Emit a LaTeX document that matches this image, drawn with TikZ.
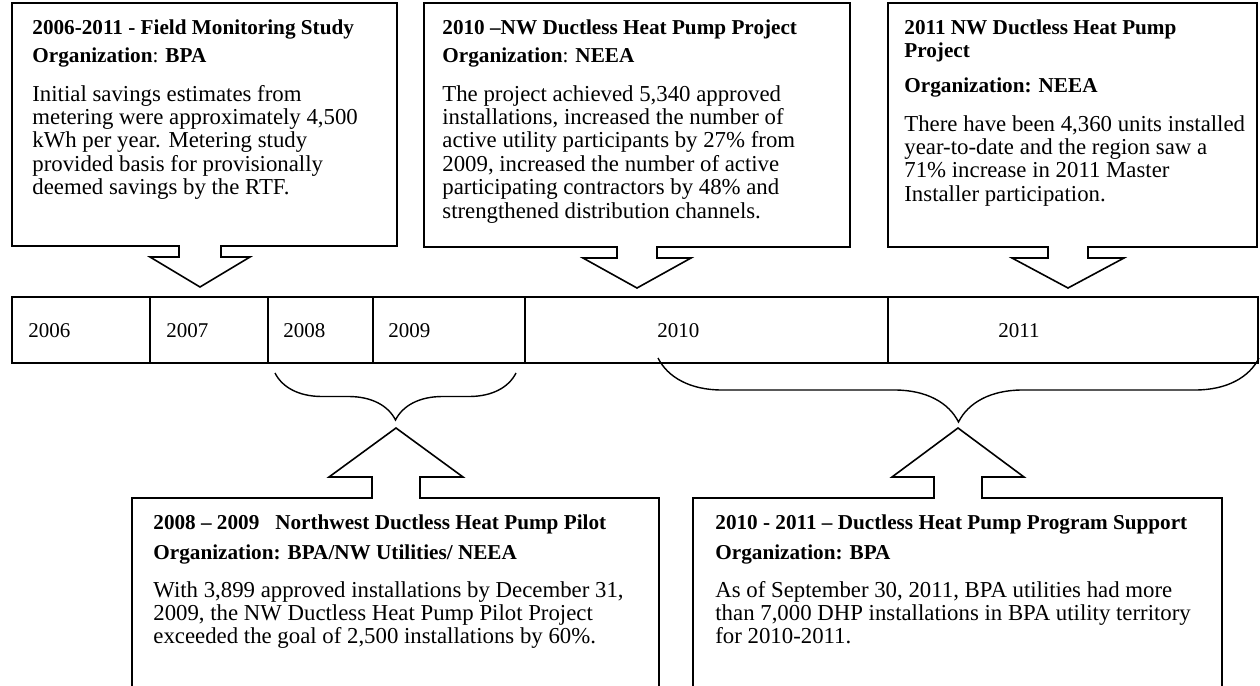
\documentclass[tikz,border=0pt]{standalone}
\usepackage{fontspec}
\setmainfont{Liberation Serif}
\usetikzlibrary{decorations.pathreplacing,positioning}

\begin{document}
\begin{tikzpicture}[
    x=0.5pt, y=-0.5pt,
    frame/.style={line width=0.8pt, line join=miter},
    boxtitle/.style={anchor=base west, inner sep=0pt, align=left, font=\fontsize{10.6}{11.5}\selectfont\bfseries},
    boxorg/.style={anchor=base west, inner sep=0pt, font=\fontsize{10.6}{11.5}\selectfont},
    boxbody/.style={anchor=base west, inner sep=0pt, align=left, font=\fontsize{11.4}{11.7}\selectfont},
    yearlabel/.style={anchor=base west, inner sep=0pt, font=\fontsize{10.5}{12}\selectfont},
    yearbrace/.style={decorate, decoration={brace, amplitude=#1}, line width=0.7pt}
]
  \useasboundingbox (0,0) rectangle (1260,686);
  \clip (0,0) rectangle (1260,686);

  % callouts above the timeline
  \draw[frame] (179,246) -- (12,246) -- (12,3) -- (397,3) -- (397,246) -- (221,246)
    -- (221,257) -- (250,257) -- (200,287) -- (150,257) -- (179,257) -- cycle;
  \draw[frame] (617,247) -- (424,247) -- (424,3) -- (850,3) -- (850,247) -- (657,247)
    -- (657,258) -- (691,258) -- (637,288) -- (583,258) -- (617,258) -- cycle;
  \draw[frame] (1048,247) -- (888,247) -- (888,3) -- (1257,3) -- (1257,247) -- (1088,247)
    -- (1088,258) -- (1124,258) -- (1068,288) -- (1012,258) -- (1048,258) -- cycle;

  % multi-line nodes sit on the baseline of their last line
  \node[boxtitle] (t1) at (32,34) {2006-2011 - Field Monitoring Study};
  \node[boxorg] (o1) at (32,62) {\textbf{Organization}: \textbf{BPA}};
  \node[boxbody] (b1) at (32,194.6) {Initial savings estimates from\\metering were approximately 4,500\\kWh per year. Metering study\\provided basis for provisionally\\deemed savings by the RTF.};

  \node[boxtitle] (t2) at (442,34) {2010 –NW Ductless Heat Pump Project};
  \node[boxorg] (o2) at (442,62) {\textbf{Organization}: \textbf{NEEA}};
  \node[boxbody] (b2) at (442,218) {The project achieved 5,340 approved\\installations, increased the number of\\active utility participants by 27\% from\\2009, increased the number of active\\participating contractors by 48\% and\\strengthened distribution channels.};

  \node[boxtitle] (t3) at (904,57) {2011 NW Ductless Heat Pump\\Project};
  \node[boxorg] (o3) at (904,92) {\textbf{Organization: NEEA}};
  \node[boxbody] (b3) at (904,201.2) {There have been 4,360 units installed\\year-to-date and the region saw a\\71\% increase in 2011 Master\\Installer participation.};

  % timeline
  \draw[frame] (12,297) rectangle (1258,363);
  \foreach \xd in {150,268,373,525,888}
    \draw[frame] (\xd,297) -- (\xd,363);
  \node[yearlabel] (y2006) at (28,337) {2006};
  \node[yearlabel] (y2007) at (166,337) {2007};
  \node[yearlabel] (y2008) at (283,337) {2008};
  \node[yearlabel] (y2009) at (388,337) {2009};
  \node[yearlabel] (y2010) at (657,337) {2010};
  \node[yearlabel] (y2011) at (998,337) {2011};

  % braces
  \draw[yearbrace=23.5pt] (516,373) -- (275,373);
  \draw[yearbrace=32pt] (1259,358) -- (658,358);

  % callouts below the timeline
  \draw[frame] (372,498) -- (132,498) -- (132,720) -- (659,720) -- (659,498) -- (420,498)
    -- (420,477) -- (463,477) -- (396,428) -- (329,477) -- (372,477) -- cycle;
  \draw[frame] (934,498) -- (693,498) -- (693,720) -- (1222,720) -- (1222,498) -- (982,498)
    -- (982,477) -- (1024,477) -- (958,428) -- (892,477) -- (934,477) -- cycle;

  \node[boxtitle] (t4) at (153,529) {2008 – 2009\hspace{0.75em}Northwest Ductless Heat Pump Pilot};
  \node[boxorg] (o4) at (153,559) {\textbf{Organization: BPA/NW Utilities/ NEEA}};
  \node[boxbody] (b4) at (153,643.8) {With 3,899 approved installations by December 31,\\2009, the NW Ductless Heat Pump Pilot Project\\exceeded the goal of 2,500 installations by 60\%.};

  \node[boxtitle] (t5) at (715,529) {2010 - 2011 – Ductless Heat Pump Program Support};
  \node[boxorg] (o5) at (715,559) {\textbf{Organization: BPA}};
  \node[boxbody] (b5) at (715,643.8) {As of September 30, 2011, BPA utilities had more\\than 7,000 DHP installations in BPA utility territory\\for 2010-2011.};
\end{tikzpicture}
\end{document}
